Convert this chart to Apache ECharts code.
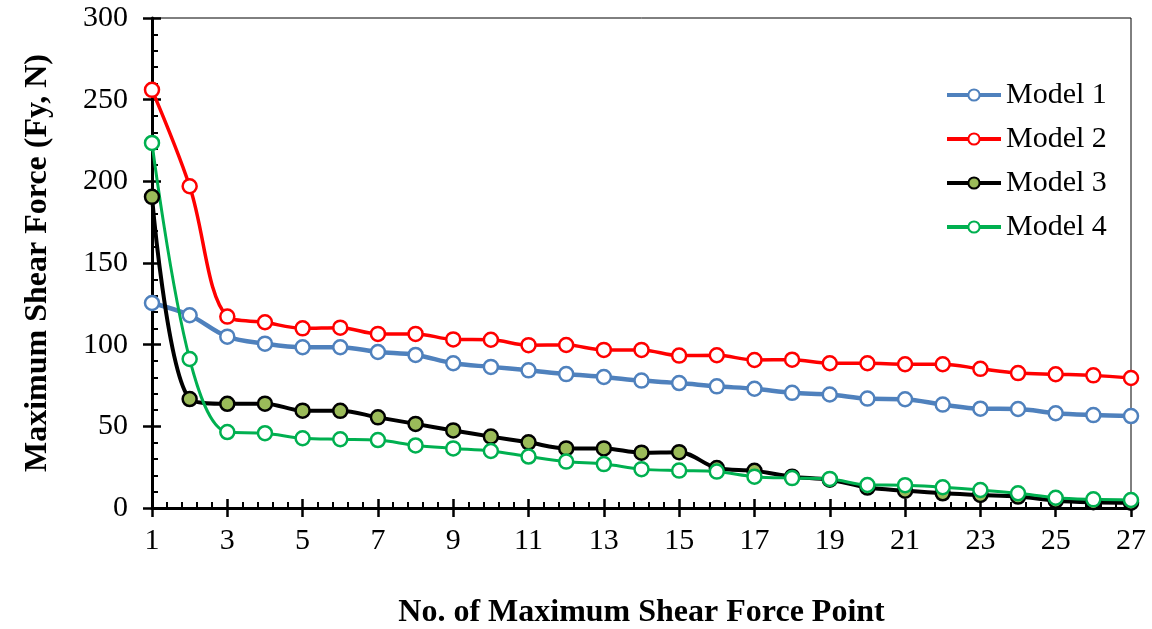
<!DOCTYPE html>
<html>
<head>
<meta charset="utf-8">
<script src="https://cdn.jsdelivr.net/npm/echarts@6/dist/echarts.min.js"></script>
<style>
  html, body { margin: 0; background: #fff; }
  #chart { width: 1152px; height: 629px; }
</style>
</head>
<body>
<div id="chart"></div>
<script>
// point numbers along the x axis
const points = [1, 2, 3, 4, 5, 6, 7, 8, 9, 10, 11, 12, 13, 14, 15, 16, 17, 18, 19, 20, 21, 22, 23, 24, 25, 26, 27]

// maximum shear force (Fy, N) per model
const model1 = [125.5, 118, 104.9, 100.6, 98.4, 98.4, 95.5, 93.7, 88.6, 86.4, 84.3, 82, 80.2, 78, 76.5, 74.5, 73, 70.5, 69.5, 67, 66.6, 63.3, 60.8, 60.6, 58, 56.9, 56.3]
const model2 = [256, 197, 117.2, 113.7, 110, 110.4, 106.6, 106.6, 103.2, 103, 99.7, 99.8, 96.8, 96.8, 93.3, 93.5, 90.6, 90.8, 88.6, 88.6, 88, 88, 85.2, 82.6, 81.9, 81.2, 79.6]
const model3 = [190.5, 66.7, 63.8, 63.9, 59.6, 59.5, 55.5, 51.5, 47.5, 43.7, 40.2, 36.5, 36.5, 33.9, 34.2, 24.5, 22.8, 19.2, 17.3, 12.5, 10.6, 9, 8, 7, 4.5, 3.5, 3.2]
const model4 = [223.5, 91.2, 46.5, 45.8, 42.7, 42.1, 41.6, 38.3, 36.5, 34.9, 31.5, 28.4, 26.9, 23.8, 22.9, 22.3, 19.2, 18.3, 17.8, 14.1, 14, 12.7, 11, 9, 6.3, 5.3, 4.9]

const FONT = '"Liberation Serif", "Times New Roman", serif'

// x axis runs 0..26 internally so ticks start on a multiple of the interval; labels add 1 back
const toPairs = (vals) => vals.map((v, i) => [points[i] - 1, v])

const makeSeries = (name, vals, color, fill, width) => ({
  name,
  type: 'line',
  smooth: 0.35,
  data: toPairs(vals),
  symbol: 'circle',
  symbolSize: 14,
  lineStyle: { color, width },
  itemStyle: { color: fill, borderColor: color, borderWidth: 2.5 },
  emphasis: { disabled: true },
  z: 3,
})

const chart = echarts.init(document.getElementById('chart'))

chart.setOption({
  animation: false,
  grid: {
    left: 152,
    right: 21,
    top: 18,
    bottom: 121,
    outerBoundsMode: 'none',
    show: true,
    borderColor: '#000',
    borderWidth: 1,
  },
  legend: {
    orient: 'vertical',
    left: 940,
    top: 75,
    itemWidth: 54,
    itemHeight: 14,
    itemGap: 14,
    lineStyle: { width: 4 },
    textStyle: { fontFamily: FONT, fontSize: 30, color: '#000', lineHeight: 30 },
    data: ['Model 1', 'Model 2', 'Model 3', 'Model 4'],
  },
  xAxis: [
    {
      type: 'value',
      min: 0,
      max: 26,
      interval: 2,
      name: 'No. of Maximum Shear Force Point',
      nameLocation: 'middle',
      nameGap: 89,
      nameTextStyle: { fontFamily: FONT, fontSize: 32, fontWeight: 'bold', color: '#000' },
      axisLine: { lineStyle: { color: '#000', width: 3 } },
      axisTick: { length: 9, lineStyle: { color: '#000', width: 2.5 } },
      axisLabel: {
        formatter: (v) => String(v + 1),
        fontFamily: FONT,
        fontSize: 30,
        color: '#000',
        margin: 18,
      },
      splitLine: { show: false },
    },
    {
      type: 'value',
      min: 0,
      max: 26,
      interval: 2,
      position: 'bottom',
      axisLine: { show: false },
      axisTick: { inside: true, length: 9, lineStyle: { color: '#000', width: 2.5 } },
      minorTick: { show: true, splitNumber: 5, length: 6, lineStyle: { color: '#000', width: 2 } },
      axisLabel: { show: false },
      splitLine: { show: false },
    },
  ],
  yAxis: [
    {
      type: 'value',
      min: 0,
      max: 300,
      interval: 50,
      name: 'Maximum Shear Force (Fy, N)',
      nameLocation: 'middle',
      nameGap: 98,
      nameTextStyle: { fontFamily: FONT, fontSize: 32, fontWeight: 'bold', color: '#000' },
      axisLine: { show: true, lineStyle: { color: '#000', width: 3 } },
      axisTick: { show: true, length: 9, lineStyle: { color: '#000', width: 2.5 } },
      axisLabel: { fontFamily: FONT, fontSize: 30, color: '#000', margin: 24 },
      splitLine: { show: false },
    },
    {
      type: 'value',
      min: 0,
      max: 300,
      interval: 50,
      position: 'left',
      axisLine: { show: false },
      axisTick: { show: true, inside: true, length: 9, lineStyle: { color: '#000', width: 2.5 } },
      minorTick: { show: true, splitNumber: 5, length: 6, lineStyle: { color: '#000', width: 2 } },
      axisLabel: { show: false },
      splitLine: { show: false },
    },
  ],
  series: [
    makeSeries('Model 1', model1, '#4F81BD', '#fff', 4.5),
    makeSeries('Model 2', model2, '#FF0000', '#fff', 3.5),
    makeSeries('Model 3', model3, '#000000', '#9BBB59', 4),
    makeSeries('Model 4', model4, '#00B050', '#fff', 3),
  ],
})
</script>
</body>
</html>
